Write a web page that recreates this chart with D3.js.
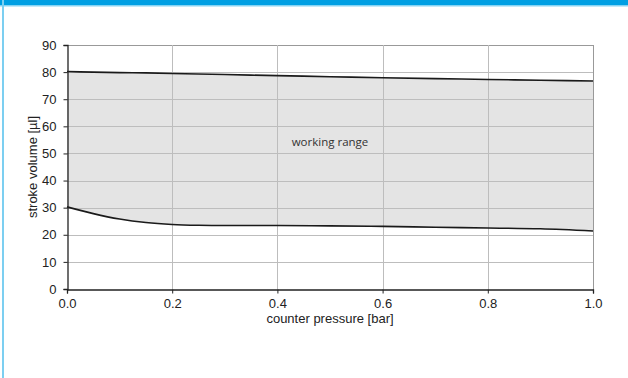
<!DOCTYPE html>
<html>
<head>
<meta charset="utf-8">
<script src="https://cdn.jsdelivr.net/npm/d3@7"></script>
<style>
  body { margin: 0; background: #fff; }
  svg { display: block; }
</style>
</head>
<body>
<script>
// counter pressure [bar] and stroke volume [µl]
const pressure = [0.0, 0.05, 0.1, 0.15, 0.2, 0.25, 0.3, 0.4, 0.5, 0.6, 0.7, 0.8, 0.9, 1.0];
const upperVolume = [80.2, 80.0, 79.8, 79.7, 79.5, 79.3, 79.1, 78.7, 78.3, 77.9, 77.6, 77.3, 77.0, 76.7];
const lowerVolume = [30.3, 27.8, 25.8, 24.5, 23.8, 23.5, 23.4, 23.4, 23.3, 23.1, 22.8, 22.5, 22.2, 21.4];
const xTicks = [0, 0.2, 0.4, 0.6, 0.8, 1.0];
const yTicks = [0, 10, 20, 30, 40, 50, 60, 70, 80, 90];

var width = 628, height = 378;
var plotLeft = 67, plotRight = 593, plotTop = 45, plotBottom = 289;

var svg = d3.select("body").append("svg")
    .attr("width", width)
    .attr("height", height);

// frame: blue header and light left edge
svg.append("rect").attr("x", 0).attr("y", 0).attr("width", width).attr("height", 5).attr("fill", "#009fe3");
svg.append("rect").attr("x", 0).attr("y", 5).attr("width", width).attr("height", 1.5).attr("fill", "#86d3f3");
svg.append("rect").attr("x", 2).attr("y", 0).attr("width", 2).attr("height", height).attr("fill", "#7ccff1");

var x = d3.scaleLinear().domain([0, 1]).range([plotLeft, plotRight]);
var y = d3.scaleLinear().domain([0, 90]).range([plotBottom, plotTop]);

var rows = pressure.map(function(p, i) {
  return { p: p, hi: upperVolume[i], lo: lowerVolume[i] };
});

// shaded working range
svg.append("path")
    .datum(rows)
    .attr("fill", "#e4e4e4")
    .attr("d", d3.area()
      .x(function(d) { return x(d.p); })
      .y0(function(d) { return y(d.lo); })
      .y1(function(d) { return y(d.hi); })
      .curve(d3.curveMonotoneX));

// grid
svg.append("g").selectAll("line")
    .data(yTicks.slice(1))
  .enter().append("line")
    .attr("x1", plotLeft).attr("x2", plotRight)
    .attr("y1", function(d) { return Math.round(y(d)) + 0.5; })
    .attr("y2", function(d) { return Math.round(y(d)) + 0.5; })
    .attr("stroke", function(d) { return d === 90 ? "#999" : "#bdbdbd"; })
    .attr("stroke-width", 1);

svg.append("g").selectAll("line")
    .data(xTicks.slice(1))
  .enter().append("line")
    .attr("y1", plotTop).attr("y2", plotBottom)
    .attr("x1", function(d) { return Math.round(x(d)) + 0.5; })
    .attr("x2", function(d) { return Math.round(x(d)) + 0.5; })
    .attr("stroke", function(d) { return d === 1 ? "#999" : "#bdbdbd"; })
    .attr("stroke-width", 1);

// curves
["hi", "lo"].forEach(function(k) {
  svg.append("path")
      .datum(rows)
      .attr("fill", "none")
      .attr("stroke", "#1a1a1a")
      .attr("stroke-width", 1.6)
      .attr("d", d3.line()
        .x(function(d) { return x(d.p); })
        .y(function(d) { return y(d[k]); })
        .curve(d3.curveMonotoneX));
});

// axes
var xAxis = svg.append("g")
    .attr("transform", "translate(0," + (plotBottom + 0.5) + ")")
    .call(d3.axisBottom(x).tickValues(xTicks).tickFormat(d3.format(".1f")).tickSize(4).tickPadding(5));
var yAxis = svg.append("g")
    .attr("transform", "translate(" + (plotLeft + 0.5) + ",0)")
    .call(d3.axisLeft(y).tickValues(yTicks).tickSize(4).tickPadding(7));

[xAxis, yAxis].forEach(function(g) {
  g.select(".domain").attr("stroke", "#222").attr("stroke-width", 1.3);
  g.selectAll(".tick line").attr("stroke", "#222");
  g.selectAll("text")
      .attr("font-family", "Liberation Sans, Arial, sans-serif")
      .attr("font-size", 13)
      .attr("fill", "#222");
});

svg.append("text")
    .attr("x", (plotLeft + plotRight) / 2)
    .attr("y", 323)
    .attr("text-anchor", "middle")
    .attr("font-family", "Liberation Sans, Arial, sans-serif")
    .attr("font-size", 13)
    .attr("fill", "#222")
    .text("counter pressure [bar]");

svg.append("text")
    .attr("transform", "translate(37," + ((plotTop + plotBottom) / 2) + ") rotate(-90)")
    .attr("text-anchor", "middle")
    .attr("font-family", "Liberation Sans, Arial, sans-serif")
    .attr("font-size", 13)
    .attr("fill", "#222")
    .text("stroke volume [µl]");

svg.append("text")
    .attr("x", 330)
    .attr("y", 146)
    .attr("text-anchor", "middle")
    .attr("font-family", "Open Sans, sans-serif")
    .attr("font-size", 11.5)
    .attr("fill", "#333")
    .text("working range");
</script>
</body>
</html>
